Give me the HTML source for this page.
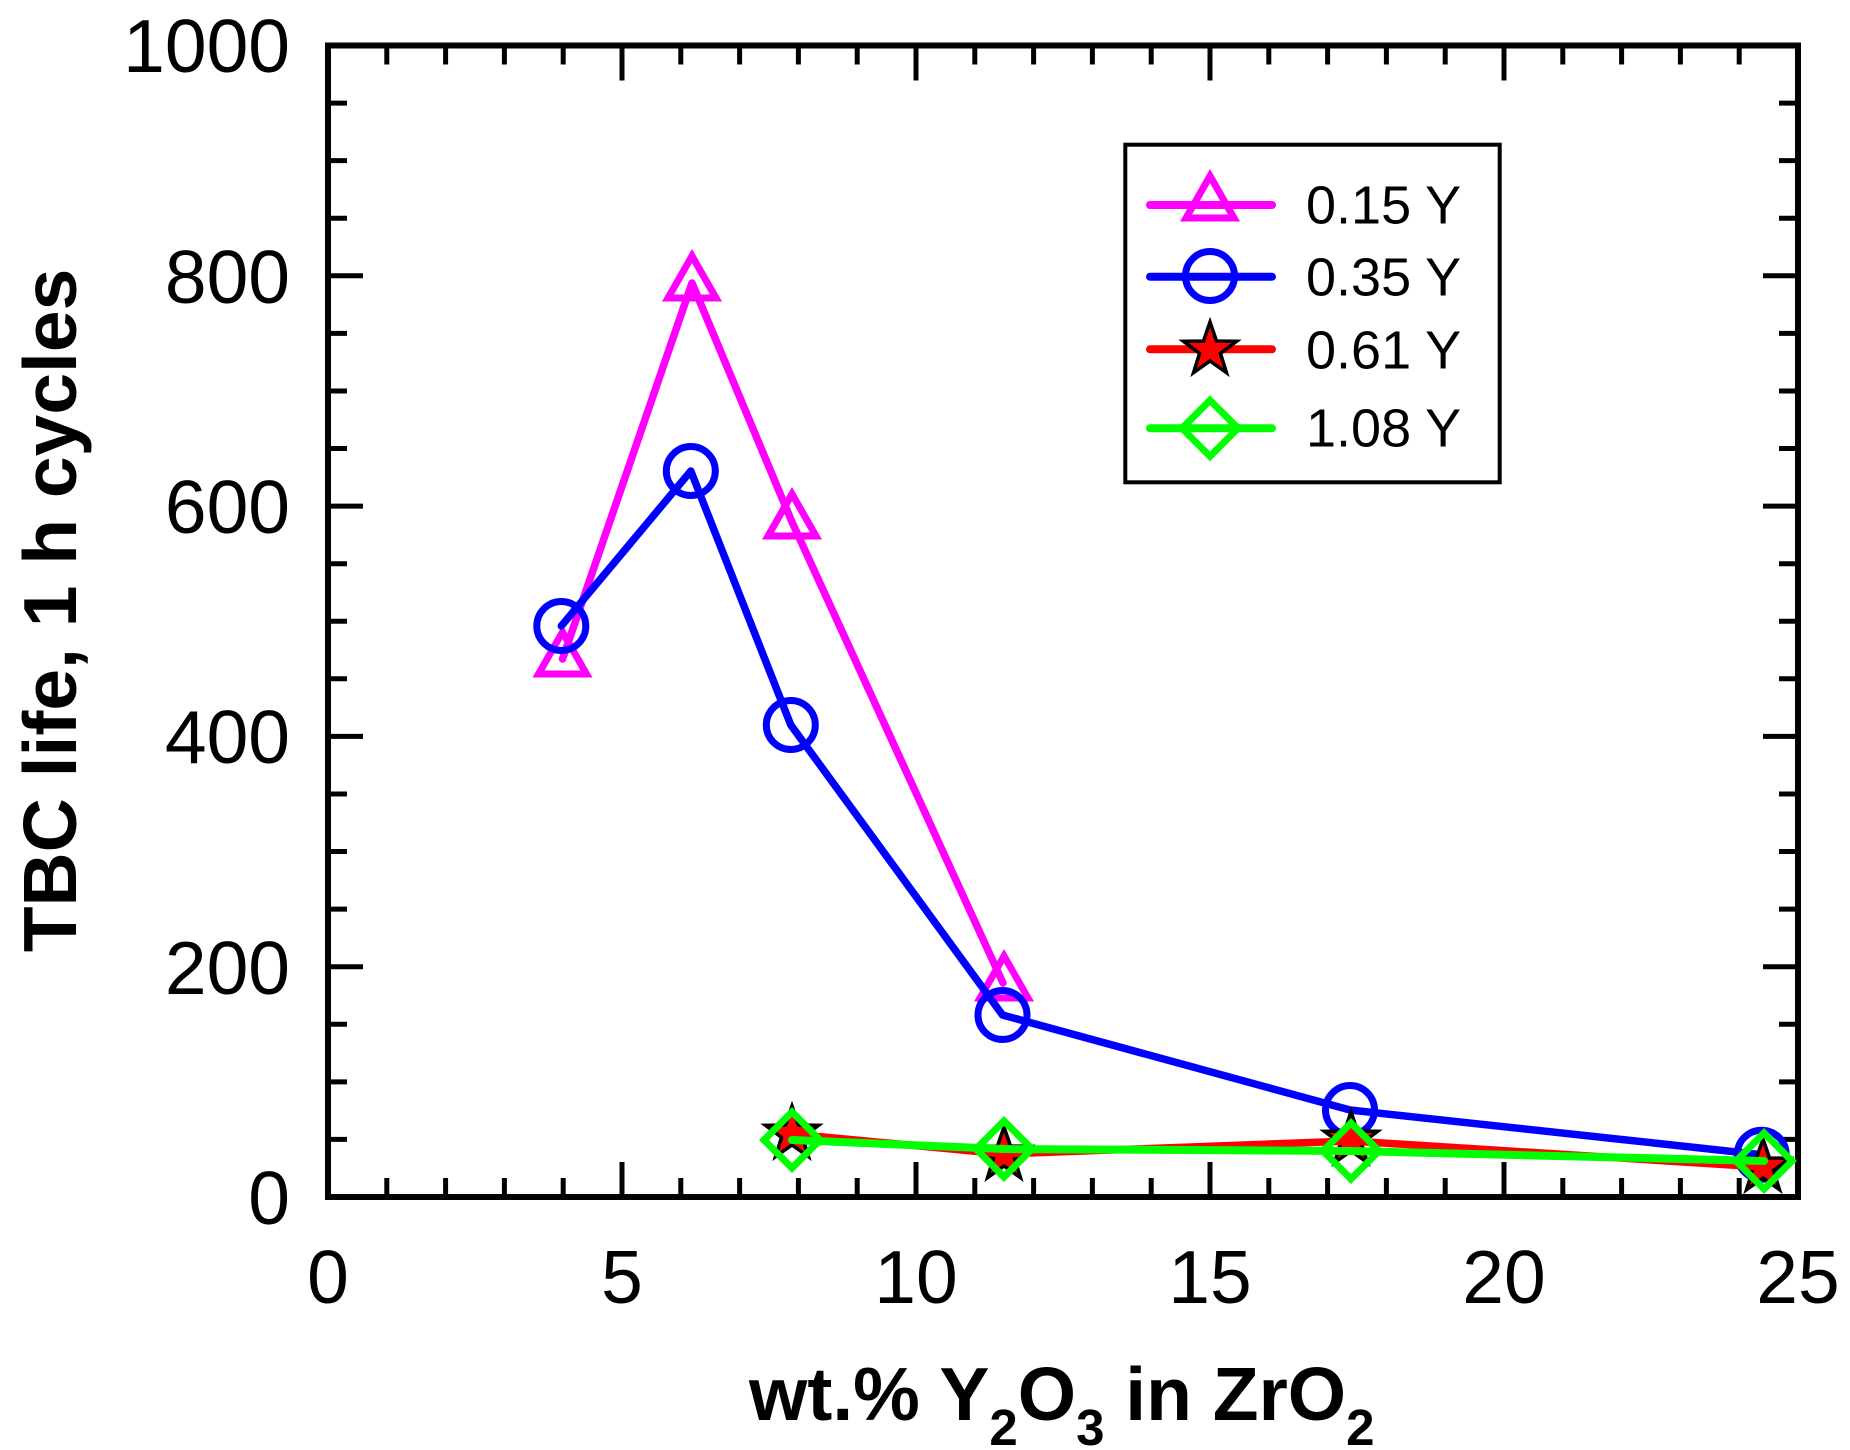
<!DOCTYPE html>
<html>
<head>
<meta charset="utf-8">
<style>
  html, body { margin: 0; padding: 0; background: #ffffff; }
  svg { display: block; }
  text { font-family: "Liberation Sans", Arial, sans-serif; fill: #000; }
</style>
</head>
<body>
<svg width="1850" height="1450" viewBox="0 0 1850 1450" xmlns="http://www.w3.org/2000/svg">
  <rect x="0" y="0" width="1850" height="1450" fill="#ffffff"/>

  <!-- ticks -->
  <g stroke="#000" stroke-width="5" fill="none">
    <path d="M386.8,1197V1178 M445.6,1197V1178 M504.4,1197V1178 M563.2,1197V1178 M622,1197V1162
             M680.8,1197V1178 M739.6,1197V1178 M798.4,1197V1178 M857.2,1197V1178 M916,1197V1162
             M974.8,1197V1178 M1033.6,1197V1178 M1092.4,1197V1178 M1151.2,1197V1178 M1210,1197V1162
             M1268.8,1197V1178 M1327.6,1197V1178 M1386.4,1197V1178 M1445.2,1197V1178 M1504,1197V1162
             M1562.8,1197V1178 M1621.6,1197V1178 M1680.4,1197V1178 M1739.2,1197V1178"/>
    <path d="M386.8,45.5V64.5 M445.6,45.5V64.5 M504.4,45.5V64.5 M563.2,45.5V64.5 M622,45.5V80.5
             M680.8,45.5V64.5 M739.6,45.5V64.5 M798.4,45.5V64.5 M857.2,45.5V64.5 M916,45.5V80.5
             M974.8,45.5V64.5 M1033.6,45.5V64.5 M1092.4,45.5V64.5 M1151.2,45.5V64.5 M1210,45.5V80.5
             M1268.8,45.5V64.5 M1327.6,45.5V64.5 M1386.4,45.5V64.5 M1445.2,45.5V64.5 M1504,45.5V80.5
             M1562.8,45.5V64.5 M1621.6,45.5V64.5 M1680.4,45.5V64.5 M1739.2,45.5V64.5"/>
    <path d="M328,1139.4H347 M328,1081.85H347 M328,1024.3H347 M328,966.7H363
             M328,909.1H347 M328,851.55H347 M328,794H347 M328,736.4H363
             M328,678.8H347 M328,621.25H347 M328,563.7H347 M328,506.1H363
             M328,448.5H347 M328,390.95H347 M328,333.4H347 M328,275.8H363
             M328,218.2H347 M328,160.65H347 M328,103.1H347"/>
    <path d="M1798,1139.4H1779 M1798,1081.85H1779 M1798,1024.3H1779 M1798,966.7H1763
             M1798,909.1H1779 M1798,851.55H1779 M1798,794H1779 M1798,736.4H1763
             M1798,678.8H1779 M1798,621.25H1779 M1798,563.7H1779 M1798,506.1H1763
             M1798,448.5H1779 M1798,390.95H1779 M1798,333.4H1779 M1798,275.8H1763
             M1798,218.2H1779 M1798,160.65H1779 M1798,103.1H1779"/>
  </g>

  <!-- axes frame -->
  <rect x="328" y="45.5" width="1470" height="1151.5" fill="none" stroke="#000" stroke-width="6"/>

  <!-- y tick labels -->
  <g font-size="75" text-anchor="end">
    <text x="290" y="1224">0</text>
    <text x="290" y="994">200</text>
    <text x="290" y="763">400</text>
    <text x="290" y="533">600</text>
    <text x="290" y="303">800</text>
    <text x="290" y="72">1000</text>
  </g>

  <!-- x tick labels -->
  <g font-size="75" text-anchor="middle">
    <text x="328" y="1303">0</text>
    <text x="622" y="1303">5</text>
    <text x="916" y="1303">10</text>
    <text x="1210" y="1303">15</text>
    <text x="1504" y="1303">20</text>
    <text x="1798" y="1303">25</text>
  </g>

  <!-- axis titles -->
  <text transform="translate(76,610.5) rotate(-90)" text-anchor="middle" font-size="75" font-weight="bold">TBC life, 1 h cycles</text>
  <text x="749" y="1420" font-size="75" font-weight="bold">wt.% Y<tspan font-size="51" dy="25">2</tspan><tspan dy="-25">O</tspan><tspan font-size="51" dy="25">3</tspan><tspan dy="-25"> in ZrO</tspan><tspan font-size="51" dy="25">2</tspan></text>

  <defs>
    <path id="tri" d="M0,-28 L24,14 L-24,14 Z"/>
    <path id="dia" d="M0,-28 L28,0 L0,28 L-28,0 Z"/>
    <path id="star" d="M0,-28 L6.5,-9 L26.6,-8.7 L10.5,3.4 L16.5,22.7 L0,11 L-16.5,22.7 L-10.5,3.4 L-26.6,-8.7 L-6.5,-9 Z"/>
  </defs>

  <!-- Series 1: 0.15 Y magenta triangles -->
  <g>
    <polyline points="562.5,659 692,283 792,522 1003,983" fill="none" stroke="#ff00ff" stroke-width="7.5" stroke-linejoin="round" stroke-linecap="round"/>
    <g fill="none" stroke="#ff00ff" stroke-width="7">
      <use href="#tri" x="562.5" y="660"/>
      <use href="#tri" x="692" y="284"/>
      <use href="#tri" x="792" y="522"/>
      <use href="#tri" x="1004" y="984"/>
    </g>
  </g>

  <!-- Series 2: 0.35 Y blue circles -->
  <g>
    <polyline points="561.3,626 690.8,471 790.8,725 1002.5,1015 1350,1110 1761.7,1154.7" fill="none" stroke="#0000ff" stroke-width="7.5" stroke-linejoin="round" stroke-linecap="round"/>
    <g fill="none" stroke="#0000ff" stroke-width="7">
      <circle cx="561.3" cy="626" r="24.5"/>
      <circle cx="690.8" cy="471" r="24.5"/>
      <circle cx="790.8" cy="725" r="24.5"/>
      <circle cx="1002.5" cy="1015" r="24.5"/>
      <circle cx="1350" cy="1110" r="24.5"/>
      <circle cx="1761.7" cy="1154.7" r="24.5"/>
    </g>
  </g>

  <!-- Series 3: 0.61 Y red stars -->
  <g>
    <g fill="#ff0000" stroke="#000" stroke-width="3.5">
      <use href="#star" x="792" y="1134"/>
      <use href="#star" x="1004" y="1155"/>
      <use href="#star" x="1351" y="1140"/>
      <use href="#star" x="1763" y="1167"/>
    </g>
    <polyline points="792,1134 1004,1154 1351,1141 1763,1167" fill="none" stroke="#ff0000" stroke-width="7.5" stroke-linejoin="round" stroke-linecap="round"/>
  </g>

  <!-- Series 4: 1.08 Y green diamonds -->
  <g>
    <g fill="none" stroke="#00ff00" stroke-width="7">
      <use href="#dia" x="792" y="1140"/>
      <use href="#dia" x="1004" y="1149"/>
      <use href="#dia" x="1351" y="1151"/>
      <use href="#dia" x="1764" y="1161"/>
    </g>
    <polyline points="792,1140 1004,1149 1351,1151 1764,1161" fill="none" stroke="#00ff00" stroke-width="8" stroke-linejoin="round" stroke-linecap="round"/>
  </g>

  <!-- Legend -->
  <rect x="1125.3" y="144.7" width="374.4" height="337.6" fill="#ffffff" stroke="#000" stroke-width="4"/>
  <g stroke-linecap="round" stroke-width="8" fill="none">
    <line x1="1150" y1="205" x2="1272" y2="205" stroke="#ff00ff"/>
    <line x1="1150" y1="276.7" x2="1272" y2="276.7" stroke="#0000ff"/>
    <line x1="1150" y1="349.3" x2="1272" y2="349.3" stroke="#ff0000"/>
    <line x1="1150" y1="428.3" x2="1272" y2="428.3" stroke="#00ff00"/>
  </g>
  <use href="#tri" x="1210" y="204" fill="none" stroke="#ff00ff" stroke-width="7"/>
  <circle cx="1210" cy="276" r="24.5" fill="none" stroke="#0000ff" stroke-width="7"/>
  <use href="#star" x="1210" y="350" fill="#ff0000" stroke="#000" stroke-width="3.5"/>
  <use href="#dia" x="1210" y="428.3" fill="none" stroke="#00ff00" stroke-width="7"/>
  <g font-size="54">
    <text x="1306" y="223.3">0.15 Y</text>
    <text x="1306" y="295.7">0.35 Y</text>
    <text x="1306" y="368.3">0.61 Y</text>
    <text x="1306" y="446.7">1.08 Y</text>
  </g>
</svg>
</body>
</html>
